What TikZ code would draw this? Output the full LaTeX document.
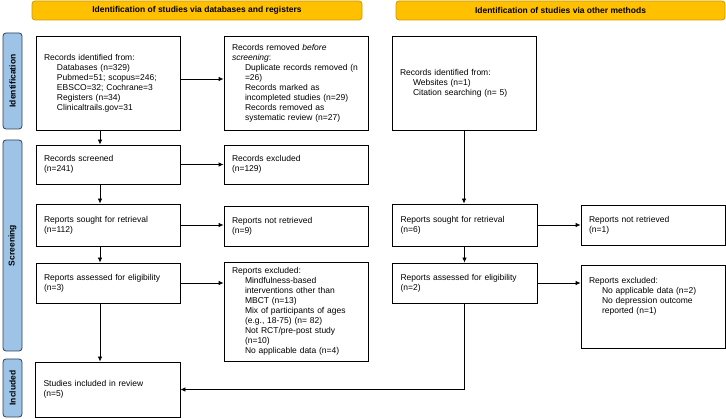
\documentclass[tikz,border=0pt]{standalone}
\usepackage{fontspec}
\setmainfont{Liberation Sans}
\usetikzlibrary{arrows.meta}
\definecolor{bannerfill}{RGB}{255,192,0}
\definecolor{bannerdraw}{RGB}{205,155,0}
\definecolor{phasefill}{RGB}{157,195,230}
\definecolor{phasedraw}{RGB}{50,62,88}
\newcommand{\ind}{\hspace*{13pt}}

\begin{document}
\begin{tikzpicture}[x=1pt, y=-1pt, line width=0.8pt, >={Latex[length=5pt,width=4.5pt]}]
        \tikzstyle{box} = [draw, minimum width=144pt, text width=128pt, inner xsep=8pt, align=left, font=\fontsize{8.5}{10}\selectfont]
        \tikzstyle{banner} = [draw=bannerdraw, fill=bannerfill, rounded corners=3pt, minimum height=19pt, font=\fontsize{8.5}{10}\selectfont\bfseries]
        \tikzstyle{phase} = [draw=phasedraw, fill=phasefill, rounded corners=3pt, rotate=90, minimum height=19pt, font=\fontsize{8.5}{10}\selectfont\bfseries]
        \useasboundingbox (0,0) rectangle (726,419);
        % headers
        \node[banner] (H-1) at (197,10.5) [minimum width=330pt] {Identification of studies via databases and registers};
        \node[banner] (H-2) at (560.5,10.5) [minimum width=329pt] {Identification of studies via other methods};
        % phases
        \node[phase] (P-1) at (12.5,81) [minimum width=96pt] {Identification};
        \node[phase] (P-2) at (12.5,245.5) [minimum width=211pt] {Screening};
        \node[phase] (P-3) at (12.5,388) [minimum width=58pt] {Included};
        % databases and registers
        \node[box] (db-1) at (108,83) [minimum height=94pt] {Records identified from:\\
          \ind Databases (n=329)\\
          \ind Pubmed=51; scopus=246;\\
          \ind EBSCO=32; Cochrane=3\\
          \ind Registers (n=34)\\
          \ind Clinicaltrails.gov=31};
        \node[box] (db-2) at (108,164.5) [minimum height=39pt] {Records screened\\(n=241)};
        \node[box] (db-3) at (108,225) [minimum height=42pt] {Reports sought for retrieval\\(n=112)};
        \node[box] (db-4) at (108,283) [minimum height=40pt] {Reports assessed for eligibility\\(n=3)};
        \node[box] (db-5) at (107.5,389.5) [minimum width=145pt, minimum height=55pt] {Studies included in review\\(n=5)};
        \node[box] (ex-1) at (296,83) [minimum height=94pt] {Records removed \textit{before}\\
          \textit{screening}:\\
          \ind Duplicate records removed (n\\
          \ind =26)\\
          \ind Records marked as\\
          \ind incompleted studies (n=29)\\
          \ind Records removed as\\
          \ind systematic review (n=27)};
        \node[box] (ex-2) at (296,164.5) [minimum height=39pt] {Records excluded\\(n=129)};
        \node[box] (ex-3) at (296,226) [minimum height=40pt] {Reports not retrieved\\(n=9)};
        \node[box] (ex-4) at (296,311.5) [minimum height=99pt] {Reports excluded:\\
          \ind Mindfulness-based\\
          \ind interventions other than\\
          \ind MBCT (n=13)\\
          \ind Mix of participants of ages\\
          \ind (e.g., 18-75) (n= 82)\\
          \ind Not RCT/pre-post study\\
          \ind (n=10)\\
          \ind No applicable data (n=4)};
        % other methods
        \node[box] (om-1) at (464,83) [minimum height=94pt] {Records identified from:\\
          \ind Websites (n=1)\\
          \ind Citation searching (n= 5)};
        \node[box] (om-3) at (464.5,225) [minimum width=145pt, minimum height=42pt] {Reports sought for retrieval\\(n=6)};
        \node[box] (om-4) at (464.5,283) [minimum width=145pt, minimum height=40pt] {Reports assessed for eligibility\\(n=2)};
        \node[box] (ox-3) at (653,225) [minimum height=40pt] {Reports not retrieved\\(n=1)};
        \node[box] (ox-4) at (653,306.5) [minimum height=83pt] {Reports excluded:\\
          \ind No applicable data (n=2)\\
          \ind No depression outcome\\
          \ind reported (n=1)\rule[-22pt]{0pt}{1pt}};
        % connectors
        \draw[->] ([xshift=-8pt]db-1.south) -- ([xshift=-8pt]db-2.north);
        \draw[->] ([xshift=-8pt]db-2.south) -- ([xshift=-8pt]db-3.north);
        \draw[->] ([xshift=-8pt]db-3.south) -- ([xshift=-8pt]db-4.north);
        \draw[->] ([xshift=-8pt]db-4.south) -- ([xshift=-7.5pt]db-5.north);
        \draw[->] ([yshift=4pt]db-1.east) -- ([yshift=4pt]ex-1.west);
        \draw[->] (db-2.east) -- (ex-2.west);
        \draw[->] (db-3.east) -- (db-3.east -| ex-3.west);
        \draw[->] (db-4.east) -- (db-4.east -| ex-4.west);
        \draw[->] (om-1.south) -- (om-1.south |- om-3.north);
        \draw[->] (om-3.south) -- (om-4.north);
        \draw[->] (om-3.east) -- (om-3.east -| ox-3.west);
        \draw[->] (om-4.east) -- (om-4.east -| ox-4.west);
        \draw[->] (om-4.south) |- (db-5.east);
      \end{tikzpicture}
\end{document}
